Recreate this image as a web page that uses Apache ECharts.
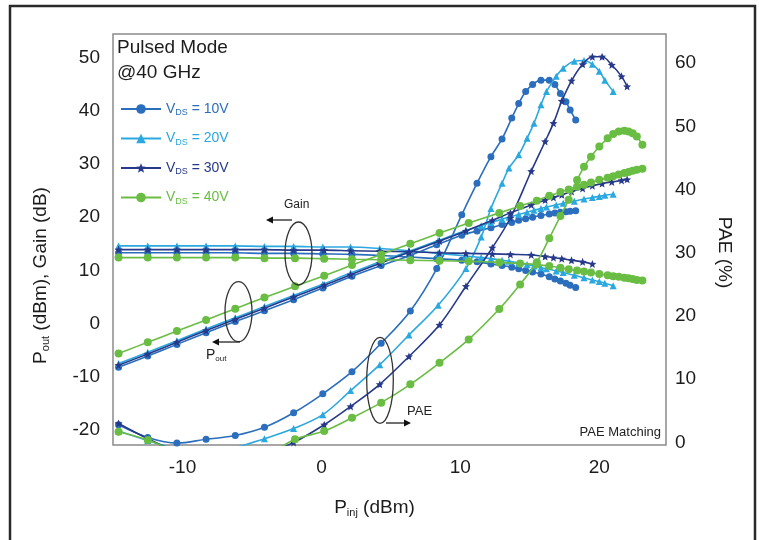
<!DOCTYPE html>
<html><head><meta charset="utf-8">
<script src="https://cdn.jsdelivr.net/npm/echarts@6/dist/echarts.min.js"></script>
<style>html,body{margin:0;padding:0;background:#fff}#c{width:759px;height:540px}</style>
</head><body><div id="c"></div>
<script>
// ---- data ----
const seriesNames = ['VDS = 10V', 'VDS = 20V', 'VDS = 30V', 'VDS = 40V'];
const xTicks = [-10, 0, 10, 20];
const leftTicks = [-20, -10, 0, 10, 20, 30, 40, 50];
const rightTicks = [0, 10, 20, 30, 40, 50, 60];

const pin10  = [-14.6,-12.5,-10.4,-8.3,-6.2,-4.1,-2.0,0.1,2.2,4.3,6.4,8.3,10.1,11.2,12.2,13.0,13.7,14.2,14.7,15.2,15.8,16.4,16.8,17.2,17.6,17.9,18.3];
const pout10 = [-8.2,-6.1,-3.9,-1.7,0.4,2.4,4.5,6.7,8.9,10.9,12.8,14.8,16.6,17.4,18.0,18.6,19.0,19.4,19.7,20.0,20.3,20.6,20.8,20.9,21.0,21.1,21.2];
const gain10 = [13.3,13.3,13.3,13.3,13.3,13.2,13.2,13.1,13.0,12.8,12.5,12.2,11.9,11.6,11.2,10.9,10.6,10.3,10.0,9.7,9.3,8.8,8.4,8.0,7.6,7.2,6.8];
const pae10  = [2.8,0.8,-0.1,0.5,1.1,2.4,4.7,7.7,11.2,15.7,20.8,27.5,36.0,41.0,45.2,48.0,51.3,53.6,55.5,56.6,57.3,57.3,56.6,55.2,53.9,52.6,51.0];

const pin20  = [-14.6,-12.5,-10.4,-8.3,-6.2,-4.1,-2.0,0.1,2.1,4.2,6.3,8.4,10.4,11.5,12.2,13.0,13.5,14.2,14.8,15.3,15.8,16.2,16.9,17.4,18.2,18.9,19.5,20.0,20.4,21.0];
const pout20 = [-7.5,-5.4,-3.2,-1.0,1.1,3.2,5.3,7.4,9.5,11.6,13.6,15.6,17.5,18.4,19.0,19.6,20.0,20.5,20.9,21.3,21.6,21.9,22.3,22.6,23.0,23.4,23.7,23.9,24.1,24.3];
const gain20 = [14.6,14.6,14.6,14.6,14.6,14.5,14.5,14.4,14.4,14.1,13.7,13.2,12.7,12.4,12.2,11.9,11.7,11.4,11.1,10.8,10.5,10.3,9.9,9.6,9.1,8.6,8.2,7.9,7.6,7.1];
const pae20  = [1.8,0.3,-1.0,-1.5,-0.8,0.6,2.2,4.4,8.2,12.3,17.0,21.7,27.5,32.5,37.0,41.0,43.4,45.5,48.1,50.5,53.4,55.5,57.9,59.2,60.3,60.4,59.8,58.7,57.3,55.5];

const pin30  = [-14.6,-12.5,-10.4,-8.3,-6.2,-4.1,-2.0,0.2,2.1,4.2,6.3,8.5,10.4,12.3,13.6,15.1,16.1,16.7,17.3,18.0,18.8,19.5,20.2,20.9,21.6,22.0];
const pout30 = [-7.8,-5.7,-3.5,-1.3,0.8,2.9,5.0,7.2,9.2,11.3,13.4,15.5,17.4,19.4,20.8,22.3,23.2,23.7,24.2,24.8,25.4,25.9,26.3,26.6,26.9,27.1];
const gain30 = [13.9,13.9,13.9,13.9,13.9,13.9,13.8,13.8,13.7,13.6,13.5,13.3,13.2,13.1,13.0,12.9,12.6,12.4,12.2,11.9,11.6,11.2];
const pae30  = [3.0,0.6,-1.5,-2.8,-2.8,-1.8,0.0,2.8,5.7,9.2,13.6,18.6,24.7,30.8,35.5,42.9,47.6,50.5,54.0,57.2,59.8,61.0,61.0,59.7,57.9,56.3];

const pin40  = [-14.6,-12.5,-10.4,-8.3,-6.2,-4.1,-1.9,0.2,2.2,4.3,6.4,8.5,10.6,12.8,14.3,15.5,16.4,17.2,17.8,18.4,18.9,19.4,20.0,20.6,21.0,21.4,21.8,22.1,22.4,22.7,23.1];
const pout40 = [-5.6,-3.5,-1.4,0.7,2.8,4.9,7.0,9.0,11.0,13.0,15.0,17.0,18.9,20.8,22.1,23.1,24.0,24.7,25.2,25.7,26.1,26.5,27.0,27.4,27.7,28.0,28.3,28.5,28.7,28.9,29.1];
const gain40 = [12.4,12.4,12.4,12.4,12.4,12.3,12.3,12.2,12.1,12.0,11.9,11.8,11.7,11.5,11.3,11.1,10.8,10.5,10.2,10.0,9.8,9.6,9.3,9.1,8.9,8.8,8.6,8.5,8.4,8.2,8.1];
const pae40  = [1.7,0.4,-1.5,-3.0,-3.5,-2.2,0.5,1.8,3.9,6.3,9.2,12.6,16.3,21.1,25.0,28.5,32.3,35.8,38.4,41.5,43.6,45.2,46.8,48.1,48.8,49.2,49.3,49.2,48.9,48.4,47.1];

// ---- style ----
const FONT = "'Liberation Sans', Arial, sans-serif";
const colors = ['#2a6ebd', '#2ba8df', '#26398a', '#69bd43'];
const STAR = 'path://M0,-10L2.6,-3.6L9.5,-3.1L4.2,1.4L5.9,8.1L0,4.4L-5.9,8.1L-4.2,1.4L-9.5,-3.1L-2.6,-3.6Z';
const symbols = ['circle', 'triangle', STAR, 'circle'];
const symSizes = [7, 7, 8, 8];

const groups = [
  [pin10, pout10, gain10, pae10],
  [pin20, pout20, gain20, pae20],
  [pin30, pout30, gain30, pae30],
  [pin40, pout40, gain40, pae40]
];

function pairs(xs, ys) { return ys.map((y, i) => [xs[i], y]); }

const series = [];
groups.forEach((g, i) => {
  const [xs, pout, gain, pae] = g;
  [[pout, 0], [gain, 0], [pae, 1]].forEach(([ys, ax]) => {
    series.push({
      name: seriesNames[i], type: 'line', yAxisIndex: ax,
      data: pairs(xs, ys), smooth: 0.35,
      symbol: symbols[i], symbolSize: symSizes[i], showAllSymbol: true,
      lineStyle: { color: colors[i], width: 1.6 },
      itemStyle: { color: colors[i] },
      clip: true, animation: false, z: 2 + i
    });
  });
});

const chart = echarts.init(document.getElementById('c'), null, { renderer: 'canvas' });
const labelStyle = { color: '#1c1c1c', fontSize: 19, fontFamily: FONT };

function arrow(x1, y1, x2, y2) {
  const dx = x2 - x1, dy = y2 - y1, L = Math.hypot(dx, dy), ux = dx / L, uy = dy / L;
  const h = 7, w = 3.5;
  return [
    { type: 'line', shape: { x1, y1, x2: x2 - ux * h * 0.6, y2: y2 - uy * h * 0.6 }, style: { stroke: '#222', lineWidth: 1.3 } },
    { type: 'polygon', shape: { points: [[x2, y2], [x2 - ux * h - uy * w, y2 - uy * h + ux * w], [x2 - ux * h + uy * w, y2 - uy * h - ux * w]] }, style: { fill: '#111' } }
  ];
}

chart.setOption({
  animation: false,
  backgroundColor: '#fff',
  textStyle: { fontFamily: FONT },
  grid: { left: 113, right: 93, top: 34, bottom: 95, show: true, borderColor: '#8a8a8a', borderWidth: 1.5, backgroundColor: 'transparent' },
  legend: {
    orient: 'vertical', left: 115, top: 97, itemWidth: 40, itemHeight: 12, itemGap: 14,
    selectedMode: false,
    data: seriesNames.map((n, i) => ({ name: n, textStyle: { color: colors[i] } })),
    formatter: n => '{v|V}{s|DS}{v| = ' + n.split('= ')[1] + '}',
    textStyle: { fontFamily: FONT, fontSize: 14, rich: { v: { fontSize: 14, fontFamily: FONT }, s: { fontSize: 9, fontFamily: FONT, padding: [8, 0, 0, 0] } } }
  },
  xAxis: {
    type: 'value', min: -15, max: 24.8,
    name: '{a|P}{s|inj}{a| (dBm)}', nameLocation: 'middle', nameGap: 53,
    nameTextStyle: { padding: [0, 30, 0, 0], rich: { a: labelStyle, s: { fontSize: 11, fontFamily: FONT, color: '#1c1c1c', padding: [9, 0, 0, 0] } } },
    axisLine: { show: false }, axisTick: { show: false }, splitLine: { show: false },
    axisLabel: { customValues: xTicks, margin: 13, ...labelStyle }
  },
  yAxis: [{
    type: 'value', min: -22.8, max: 54.4, position: 'left',
    name: '{a|P}{s|out}{a| (dBm), Gain (dB)}', nameLocation: 'middle', nameGap: 62, nameRotate: 90,
    nameTextStyle: { padding: [0, 72, 0, 0], rich: { a: labelStyle, s: { fontSize: 11, fontFamily: FONT, color: '#1c1c1c', padding: [9, 0, 0, 0] } } },
    axisLine: { show: false }, axisTick: { show: false }, splitLine: { show: false },
    axisLabel: { customValues: leftTicks, margin: 13, ...labelStyle }
  }, {
    type: 'value', min: -0.4, max: 64.6, position: 'right',
    name: 'PAE (%)', nameLocation: 'middle', nameGap: 49, nameRotate: -90,
    nameTextStyle: { ...labelStyle, padding: [0, 0, 0, 26] },
    axisLine: { show: false }, axisTick: { show: false }, splitLine: { show: false },
    axisLabel: { customValues: rightTicks, margin: 9, ...labelStyle }
  }],
  series: series,
  graphic: [
    { type: 'rect', shape: { x: 10, y: 6, width: 745, height: 560 }, style: { fill: 'none', stroke: '#2a2a2a', lineWidth: 2.5 }, silent: true },
    { type: 'text', left: 117, top: 38, style: { text: 'Pulsed Mode', fill: '#1c1c1c', font: '19px ' + FONT } },
    { type: 'text', left: 117, top: 63, style: { text: '@40 GHz', fill: '#1c1c1c', font: '19px ' + FONT } },
    // Gain annotation
    { type: 'ellipse', shape: { cx: 298.5, cy: 253.5, rx: 13.5, ry: 31.5 }, style: { fill: 'none', stroke: '#333', lineWidth: 1.3 }, z: 20 },
    ...arrow(292, 220, 266, 220).map(e => Object.assign(e, { z: 20 })),
    { type: 'text', x: 284, y: 199, z: 20, style: { text: 'Gain', fill: '#222', font: '12px ' + FONT } },
    // Pout annotation
    { type: 'ellipse', shape: { cx: 238.5, cy: 311.7, rx: 13.5, ry: 30 }, style: { fill: 'none', stroke: '#333', lineWidth: 1.3 }, z: 20 },
    ...arrow(240, 342, 212, 342).map(e => Object.assign(e, { z: 20 })),
    { type: 'text', x: 206, y: 348, z: 20, style: { text: '{a|P}{s|out}', fill: '#222', rich: { a: { fontSize: 14, fontFamily: FONT }, s: { fontSize: 8, fontFamily: FONT, padding: [7, 0, 0, 0] } } } },
    // PAE annotation
    { type: 'ellipse', shape: { cx: 380, cy: 380.3, rx: 13.3, ry: 43 }, style: { fill: 'none', stroke: '#333', lineWidth: 1.3 }, z: 20 },
    ...arrow(386, 423, 411, 423).map(e => Object.assign(e, { z: 20 })),
    { type: 'text', x: 407, y: 405, z: 20, style: { text: 'PAE', fill: '#222', font: '13px ' + FONT } },
    { type: 'text', right: 98, top: 426, z: 20, style: { text: 'PAE Matching', fill: '#222', font: '13px ' + FONT } }
  ]
});
</script></body></html>
